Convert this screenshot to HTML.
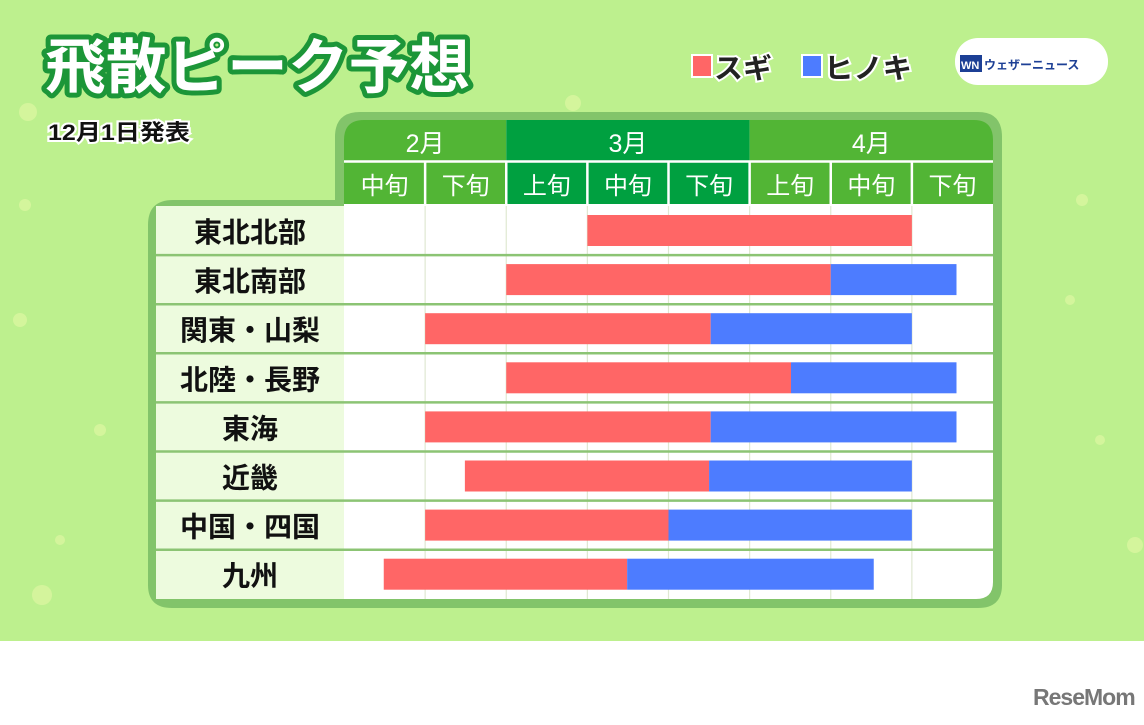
<!DOCTYPE html>
<html><head><meta charset="utf-8">
<style>
html,body{margin:0;padding:0;background:#fff;}
body{width:1144px;height:720px;overflow:hidden;font-family:"Liberation Sans","Noto Sans CJK JP",sans-serif;}
svg text{font-family:"Liberation Sans","Noto Sans CJK JP",sans-serif;}
</style></head>
<body>
<svg id="chart" width="1144" height="720" viewBox="0 0 1144 720" xmlns="http://www.w3.org/2000/svg">
  <rect x="0" y="0" width="1144" height="641" fill="#bdf08e"/>
  <g fill="#e8f9a8" opacity="0.55">
    <circle cx="28" cy="112" r="9"/><circle cx="573" cy="103" r="8"/><circle cx="42" cy="595" r="10"/><circle cx="1082" cy="200" r="6"/>
    <circle cx="1135" cy="545" r="8"/><circle cx="20" cy="320" r="7"/><circle cx="25" cy="205" r="6"/><circle cx="1100" cy="440" r="5"/>
    <circle cx="100" cy="430" r="6"/><circle cx="60" cy="540" r="5"/><circle cx="1070" cy="300" r="5"/>
  </g>
  <text x="45" y="88" font-size="60" font-weight="bold" fill="#ffffff" stroke="#1c9638" stroke-width="10" stroke-linejoin="round" paint-order="stroke" textLength="425" lengthAdjust="spacingAndGlyphs">飛散ピーク予想</text>
  <text x="48" y="140" font-size="22" font-weight="bold" fill="#111" stroke="#fff" stroke-width="4" paint-order="stroke" textLength="142" lengthAdjust="spacingAndGlyphs">12月1日発表</text>
  <g>
    <rect x="692" y="55" width="20" height="22" fill="#ff6666" stroke="#fff" stroke-width="2"/>
    <text x="714" y="78" font-size="28" font-weight="bold" fill="#222" stroke="#fff" stroke-width="4" paint-order="stroke" textLength="58" lengthAdjust="spacingAndGlyphs">スギ</text>
    <rect x="802" y="55" width="20" height="22" fill="#4d7cff" stroke="#fff" stroke-width="2"/>
    <text x="824" y="78" font-size="28" font-weight="bold" fill="#222" stroke="#fff" stroke-width="4" paint-order="stroke" textLength="88" lengthAdjust="spacingAndGlyphs">ヒノキ</text>
  </g>
  <g>
    <rect x="955" y="38" width="153" height="47" rx="23" fill="#fff"/>
    <rect x="960" y="55" width="22" height="17" fill="#1c3f95"/>
    <text x="961" y="69" font-size="11" font-weight="bold" fill="#fff">WN</text>
    <text x="984" y="69" font-size="12" font-weight="bold" fill="#1c3f95">ウェザーニュース</text>
  </g>
  <text x="1033" y="705" font-size="23" font-weight="bold" fill="#777" letter-spacing="-1">ReseMom</text>

  <path d="M148,225 Q148,200 173,200 L335,200 L335,137 Q335,112 360,112 L978,112 Q1002,112 1002,137 L1002,585 Q1002,608 978,608 L172,608 Q148,608 148,585 Z" fill="#82c46a"/>
  <path d="M156,225 Q156,206 175,206 L344,206 L344,140 Q344,120 364,120 L974,120 Q993,120 993,140 L993,582 Q993,599 976,599 L174,599 Q156,599 156,582 Z" fill="#ffffff"/>
  <rect x="156" y="206" width="188" height="393" fill="#edfbde"/>
  <g id="grid"></g>
  <g id="header"></g>
  <g id="rows"></g>
  <g id="bars"></g>
</svg>
<script>
const months = ["2月","3月","4月"];
const monthSpans = [2, 3, 3];
const decades = ["中旬","下旬","上旬","中旬","下旬","上旬","中旬","下旬"];
const regions = ["東北北部","東北南部","関東・山梨","北陸・長野","東海","近畿","中国・四国","九州"];
const sugiStart = [3, 2, 1, 2, 1, 1.49, 1, 0.49];
const sugiEnd   = [7, 6, 4.52, 5.51, 4.52, 4.5, 4.0, 3.49];
const hinokiEnd = [7, 7.55, 7, 7.55, 7.55, 7, 7, 6.53];

const NS="http://www.w3.org/2000/svg";
const x0=344, x1=993, colW=(x1-x0)/decades.length;
const rowTop=206, rowH=49.1;
const xs = v => x0 + v*colW;
const yRow = i => rowTop + i*rowH;
function mk(tag, attrs, parent){const e=document.createElementNS(NS,tag);for(const k in attrs)e.setAttribute(k,attrs[k]);parent.appendChild(e);return e;}

const grid=document.getElementById('grid');
for(let c=1;c<decades.length;c++){
  const l=mk('line',{x1:xs(c),x2:xs(c),y1:rowTop,y2:599,stroke:'#dfe8d2','stroke-width':1.2},grid);
  
  
}
const header=document.getElementById('header');
const monthColors=["#52b535","#00a040","#52b535"];
let acc=0;
months.forEach((m,i)=>{
  const r=mk('rect',{x:xs(acc),y:120,width:monthSpans[i]*colW,height:84,fill:monthColors[i]},header);
  
  
  const t=mk('text',{x:xs(acc+monthSpans[i]/2),y:152,'font-size':25,fill:'#fff','text-anchor':'middle'},header);
  t.textContent=m;
  
  
  acc+=monthSpans[i];
});
mk('path',{d:`M344,140 L344,120 L364,120 Q344,120 344,140 Z`,fill:'#82c46a'},header);
mk('path',{d:`M993,140 L993,120 L974,120 Q993,120 993,140 Z`,fill:'#82c46a'},header);
mk('line',{x1:x0,x2:x1,y1:161.5,y2:161.5,stroke:'#fff','stroke-width':2.5},header);
decades.forEach((d,i)=>{
  if(i>0){mk('line',{x1:xs(i),x2:xs(i),y1:162,y2:204,stroke:'#fff','stroke-width':2.5},header);}
  const t=mk('text',{x:xs(i+0.5),y:194,'font-size':24,fill:'#fff','text-anchor':'middle'},header);
  t.textContent=d;
  
  
});
const rows=document.getElementById('rows');
regions.forEach((r,i)=>{
  if(i>0){
    const l=mk('line',{x1:156,x2:993,y1:yRow(i),y2:yRow(i),stroke:'#8cc474','stroke-width':2.5},rows);
    
    
  }
  const t=mk('text',{x:250,y:yRow(i)+36,'font-size':28,'font-weight':'bold',fill:'#111','text-anchor':'middle'},rows);
  t.textContent=r;
  
  
});
const bars=document.getElementById('bars');
regions.forEach((r,i)=>{
  const y=yRow(i)+9, h=31;
  const s=mk('rect',{x:xs(sugiStart[i]),y:y,width:xs(sugiEnd[i])-xs(sugiStart[i]),height:h,fill:'#ff6666'},bars);
  
  
  if(hinokiEnd[i]>sugiEnd[i]){
    const b=mk('rect',{x:xs(sugiEnd[i]),y:y,width:xs(hinokiEnd[i])-xs(sugiEnd[i]),height:h,fill:'#4d7cff'},bars);
    
    
  }
});
</script>
</body></html>
